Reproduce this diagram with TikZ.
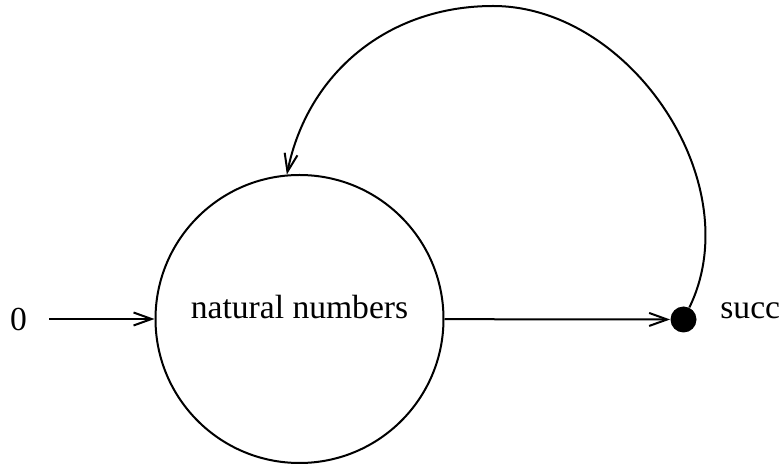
\documentclass[tikz,border=0pt]{standalone}
\usepackage{fontspec}
\setmainfont{Liberation Serif}
\usetikzlibrary{arrows.meta}

\begin{document}
\begin{tikzpicture}[
    x=0.5pt, y=0.5pt,
    font=\fontsize{16.8}{20}\selectfont,
    >={Straight Barb[length=9pt, width=6.5pt]},
    setnode/.style  = {circle, draw, line width=1pt, inner sep=0pt,
                       minimum size=144pt, text height=6pt, text depth=6pt},
    opdot/.style    = {circle, fill=black, inner sep=0pt, minimum size=13pt},
    plainlbl/.style = {inner sep=0pt},
    mapline/.style  = {->, line width=1pt}
  ]

\useasboundingbox (0,0) rectangle (783,466);

% the set and the successor point
\node[setnode] (nat)  at (299.5,147) {natural numbers};
\node[opdot]   (succ) at (683.5,146.5) {};

% labels
\node[plainlbl] (zero) at (18.5,147) {0};
\node[plainlbl, anchor=base west] (succlbl) at (720,147) {succ};
\coordinate (looptop) at (493,460);

% arrows
\draw[mapline, shorten <=11pt] (zero) -- (nat);
\draw[mapline] (nat) -- (succ);
\draw[mapline] (succ) to[out=64, in=0, looseness=0.98] (looptop)
  to[out=180, in=78.5] (nat.95);

\end{tikzpicture}
\end{document}
